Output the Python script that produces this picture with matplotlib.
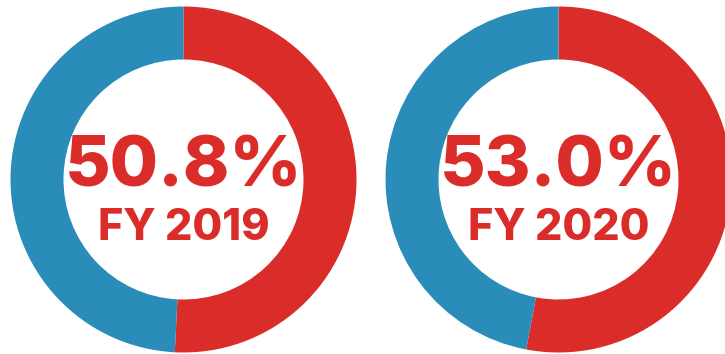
import matplotlib
matplotlib.use('Agg')
import matplotlib.pyplot as plt

# share of the total for each fiscal year (red part), remainder in blue
years = ["FY 2019", "FY 2020"]
shares = [50.8, 53.0]
labels = ["50.8%", "53.0%"]

RED = "#DA2C29"
BLUE = "#2A8CB9"

# ring geometry in pixel units of a 725x354 canvas
centers = [(183.5, 174.5), (558.5, 174.5)]
outer_r = 173.0
ring_w = 53.0

fig = plt.figure(figsize=(7.25, 3.54), dpi=100)
ax = fig.add_axes([0, 0, 1, 1])

for (cx, cy), share, pct, year in zip(centers, shares, labels, years):
    ax.pie([share, 100 - share], colors=[RED, BLUE], startangle=90,
           counterclock=False, center=(cx, cy), radius=outer_r,
           wedgeprops=dict(width=ring_w, linewidth=0), frame=True)
    ax.text(cx, cy - 7, pct, ha="center", va="baseline", color=RED,
            fontsize=50.5, fontweight="heavy", family="Inter")
    ax.text(cx, cy - 60, year, ha="center", va="baseline", color=RED,
            fontsize=31, fontweight="heavy", family="Inter")

ax.set_xlim(0, 725)
ax.set_ylim(0, 354)
ax.set_aspect("equal")
ax.axis("off")

fig.savefig("out.png", dpi=100)
